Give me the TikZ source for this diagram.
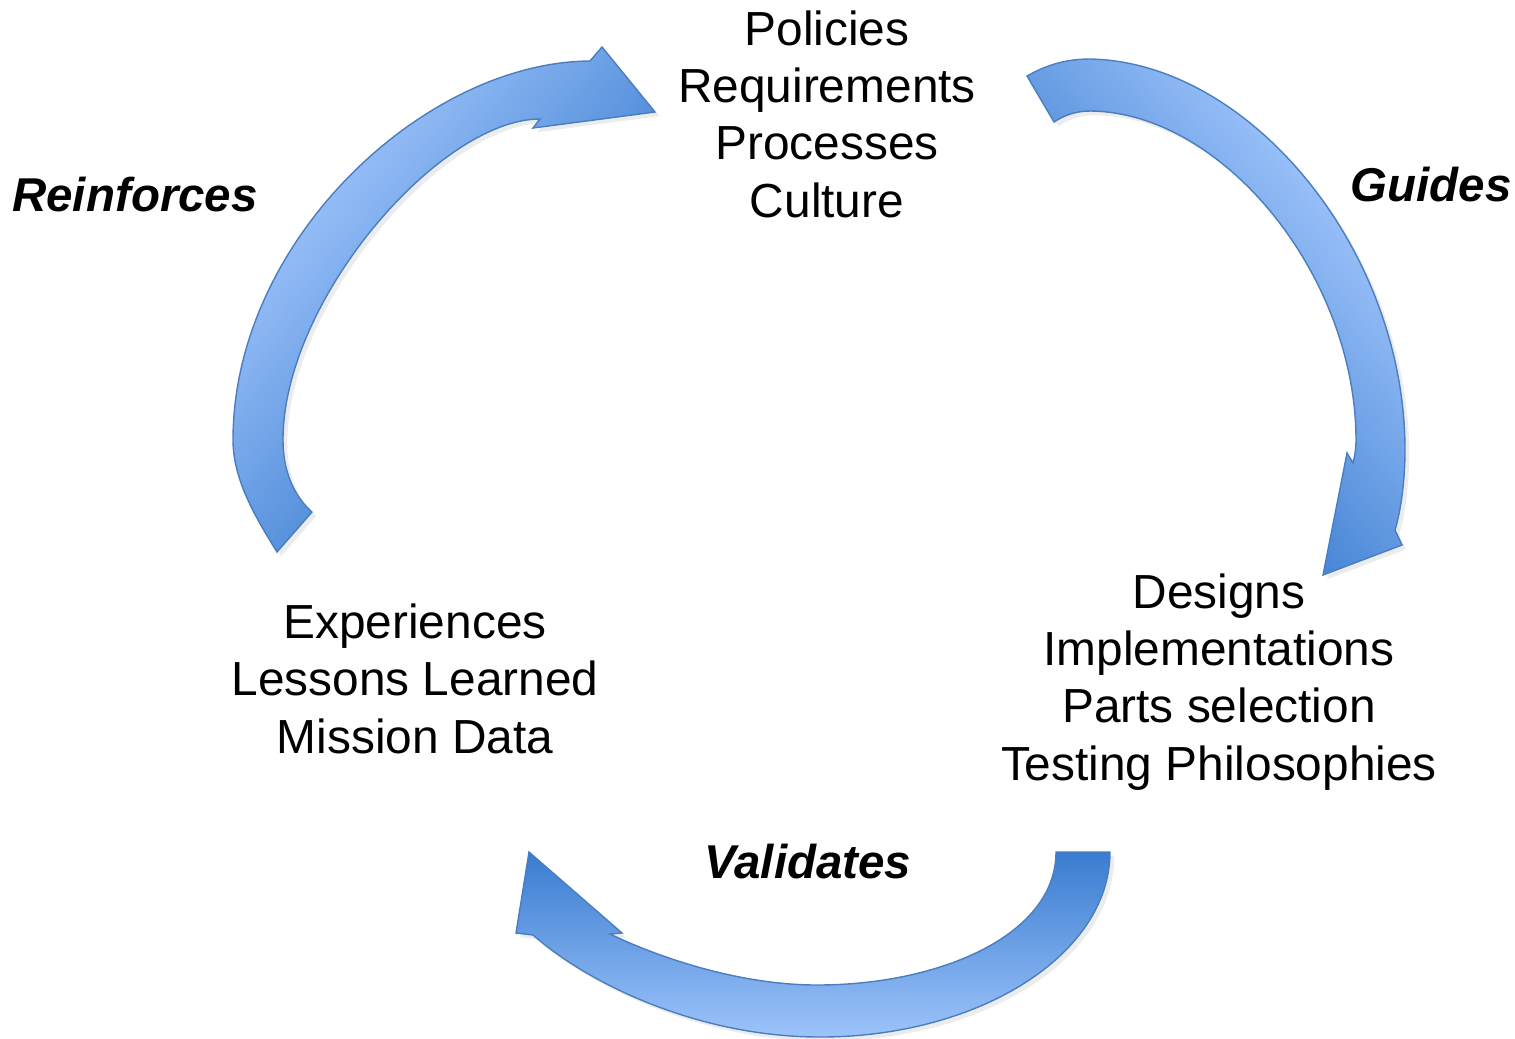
\documentclass[tikz,border=0pt]{standalone}
\usepackage{fontspec}
\setmainfont{Liberation Sans}
\usetikzlibrary{shadows}
\definecolor{adark}{RGB}{58,124,208}
\definecolor{alight}{RGB}{157,195,250}
\definecolor{aline}{RGB}{74,126,190}
\pgfdeclareverticalshading{arrgrad}{100bp}{color(0bp)=(adark); color(36bp)=(adark); color(70bp)=(alight); color(100bp)=(alight)}
\pgfdeclareverticalshading{arrgradb}{100bp}{color(0bp)=(adark); color(25bp)=(adark); color(75bp)=(alight); color(100bp)=(alight)}
\begin{document}
\begin{tikzpicture}[x=0.01cm,y=-0.01cm,
  blockarrow/.style={shading=arrgrad, draw=aline, line width=0.4pt, line join=miter,
    drop shadow={opacity=0.15, shadow xshift=1.2pt, shadow yshift=-1.2pt}},
  txt/.style={font=\fontsize{13.6pt}{16.3pt}\selectfont, align=center, inner sep=0pt, anchor=base},
  lbl/.style={font=\fontsize{13.5pt}{16.3pt}\selectfont\bfseries\itshape, inner sep=0pt, anchor=base}]
\useasboundingbox (0,0) rectangle (1515,1038);

% Reinforces arrow (left)
\path[blockarrow, shading angle=50]
  (277,552) .. controls (256,518) and (233,480) .. (233,440)
  .. controls (233,240) and (425,62) .. (590,61)
  -- (602,47) -- (655,112) -- (533,128) -- (540,119)
  .. controls (440,119) and (283,300) .. (283,440)
  .. controls (283,470) and (293,495) .. (312,512)
  -- cycle;

% Guides arrow (right)
\path[blockarrow, shading angle=-50]
  (1027,76) .. controls (1048,64) and (1068,59) .. (1090,59)
  .. controls (1250,62) and (1405,250) .. (1405,450)
  .. controls (1405,480) and (1401,510) .. (1395,530)
  -- (1402,545) -- (1323,575) -- (1347,453) -- (1353,463)
  .. controls (1355,455) and (1356,448) .. (1356,440)
  .. controls (1356,276) and (1223,112) .. (1090,111)
  .. controls (1075,111) and (1063,116) .. (1054,122)
  -- cycle;

% Validates arrow (bottom)
\path[blockarrow, shading=arrgradb, shading angle=180]
  (1110,852) .. controls (1110,954) and (980,1037) .. (820,1037)
  .. controls (700,1037) and (590,985) .. (533,935)
  -- (516,933) -- (529,852) -- (622,933) -- (610,934)
  .. controls (660,958) and (740,985) .. (817,985)
  .. controls (940,985) and (1056,935) .. (1056,852)
  -- cycle;

\node[txt] (policy) at (827,217) {Policies\\Requirements\\Processes\\Culture};
\node[txt] (design) at (1219,780) {Designs\\Implementations\\Parts selection\\Testing Philosophies};
\node[txt] (exper) at (415,753) {Experiences\\Lessons Learned\\Mission Data};

\node[lbl] (reinf) at (135,211) {Reinforces};
\node[lbl] (guides) at (1431,201) {Guides};
\node[lbl] (valid) at (808,878) {Validates};
\end{tikzpicture}
\end{document}
